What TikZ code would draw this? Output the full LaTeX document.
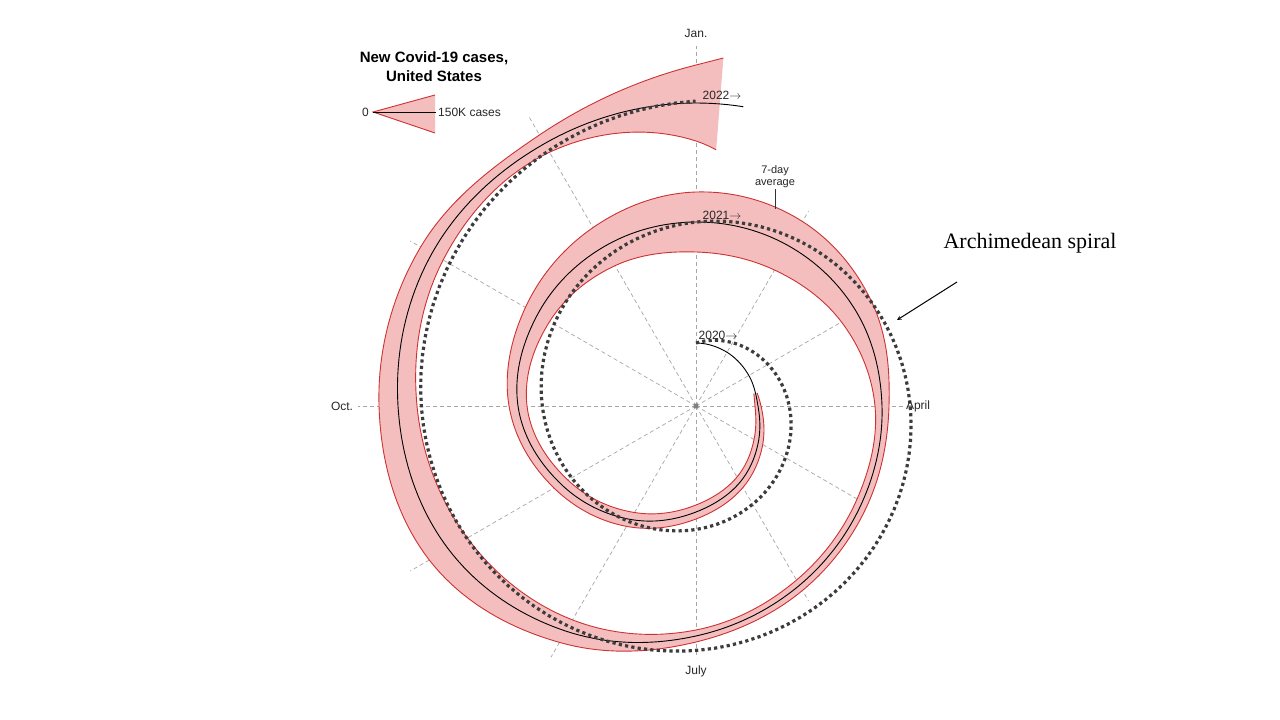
\documentclass[tikz,border=0pt]{standalone}
\usepackage{fontspec}
\setmainfont{Liberation Sans}
\newfontfamily\serifA{Liberation Serif}
\definecolor{dotc}{RGB}{60,60,60}
\definecolor{bandc}{RGB}{245,190,190}
\definecolor{edgec}{RGB}{205,50,50}
\definecolor{labc}{RGB}{40,40,40}
\def\RA{{63,62,61,62,72,88,106,131,156,178,183,184,184,185,186,186,192,207,230,260,286,298,305,303,303,303,303,303}}
\def\WA{{0,0,0,3,5,6,7,8,8,9,14,22,30,28,18,7,6,6,6,13,22,19,13,10,38,100,100,100}}
% Catmull-Rom interpolation: #1 array, #2 t, result in \crres
\newcommand\crint[2]{%
  \pgfmathtruncatemacro\ci{floor(#2)}%
  \pgfmathsetmacro\cf{#2-\ci}%
  \pgfmathtruncatemacro\cim{max(\ci-1,0)}%
  \pgfmathtruncatemacro\cip{\ci+1}%
  \pgfmathtruncatemacro\cipp{\ci+2}%
  \pgfmathsetmacro\pa{#1[\cim]}\pgfmathsetmacro\pb{#1[\ci]}%
  \pgfmathsetmacro\pc{#1[\cip]}\pgfmathsetmacro\pd{#1[\cipp]}%
  \pgfmathsetmacro\crres{0.5*(2*\pb+(-\pa+\pc)*\cf+(2*\pa-5*\pb+4*\pc-\pd)*\cf*\cf+(-\pa+3*\pb-3*\pc+\pd)*\cf*\cf*\cf)}%
}
\begin{document}
\begin{tikzpicture}[x=1pt,y=1pt,
  grid/.style={gray!70,line width=0.7pt,dash pattern=on 4pt off 3pt},
  band/.style={fill=bandc},
  edge/.style={draw=edgec,line width=0.9pt},
  lab/.style={font=\fontsize{12}{13}\selectfont,text=labc,inner sep=1pt}]
\useasboundingbox (0,0) rectangle (1280,720);
\fill[white] (0,0) rectangle (1280,720);
\coordinate (C) at (696,314);
% grid
\foreach \a/\l in {0/210,30/190,60/225,90/360,120/333,150/330,180/338,210/330,240/290,270/252,300/225,330/190}
  \draw[grid] (C) -- ++(\a:\l);
\fill[gray] (C) circle (2.5);
% data
\gdef\outerL{}\gdef\innerL{}\gdef\blackL{}
\foreach \n in {0,...,486}{
  \pgfmathsetmacro\t{\n/20}
  \pgfmathsetmacro\ang{90-30*\t}
  \crint{\RA}{\t}\let\rr\crres
  \xdef\blackL{\blackL ([shift={(696,314)}]\ang:\rr)}
  \ifnum\n>51\relax\ifnum\n<484\relax
    \crint{\WA}{\t}\let\ww\crres
    \pgfmathsetmacro\ro{\rr+max(\ww,0)}
    \pgfmathsetmacro\ri{\rr-max(\ww,0)}
    \xdef\outerL{\outerL ([shift={(696,314)}]\ang:\ro)}
    \xdef\innerL{([shift={(696,314)}]\ang:\ri)\innerL}
  \fi\fi
}
\edef\cmd{\noexpand\fill[band] plot coordinates {\outerL} -- plot coordinates {\innerL} -- cycle;
 \noexpand\draw[edge] plot coordinates {\outerL};
 \noexpand\draw[edge] plot coordinates {\innerL};
 \noexpand\draw[black,line width=0.9pt] plot coordinates {\blackL};}
\cmd
% Archimedean spiral
\draw[line width=3.2pt,dotc,dash pattern=on 3.2pt off 3.2pt]
  plot[domain=0:24,samples=200] ([shift={(696,314)}]{90-30*\x}:{63+10.08*\x});
% labels
\node[lab] (jan) at (696,687) {Jan.};
\node[lab] (apr) at (918,314) {April};
\node[lab] (jul) at (696,49) {July};
\node[lab] (oct) at (342,314) {Oct.};
\node[lab] (y22) at (722,625) {2022$\rightarrow$};
\node[lab] (y21) at (722,505) {2021$\rightarrow$};
\node[lab] (y20) at (718,385) {2020$\rightarrow$};
\node[lab,align=center,font=\fontsize{11}{12}\selectfont] (avg) at (775,543) {7-day\\average};
\draw[black!80,line width=0.8pt] (avg.south) -- ++(0,-20);
% legend
\node[font=\bfseries\fontsize{15}{19}\selectfont,align=center] (title) at (434,653) {New Covid-19 cases,\\United States};
\fill[band] (373,608) -- (435,625) -- (435,587) -- cycle;
\draw[edge] (435,625) -- (373,608) -- (435,587);
\coordinate (l0) at (373,608);
\coordinate (l1) at (436,608);
\draw[black,line width=0.8pt] (l0) -- (l1);
\node[lab,anchor=east] (zero) at (370,608) {0};
\node[lab,anchor=west] (k150) at (437,608) {150K cases};
% annotation
\node[font=\serifA\fontsize{22}{24}\selectfont] (arch) at (1030,477) {Archimedean spiral};
\coordinate (tip) at (897,400);
\draw[-stealth,line width=1pt] (957,438) -- (tip);
\end{tikzpicture}
\end{document}
